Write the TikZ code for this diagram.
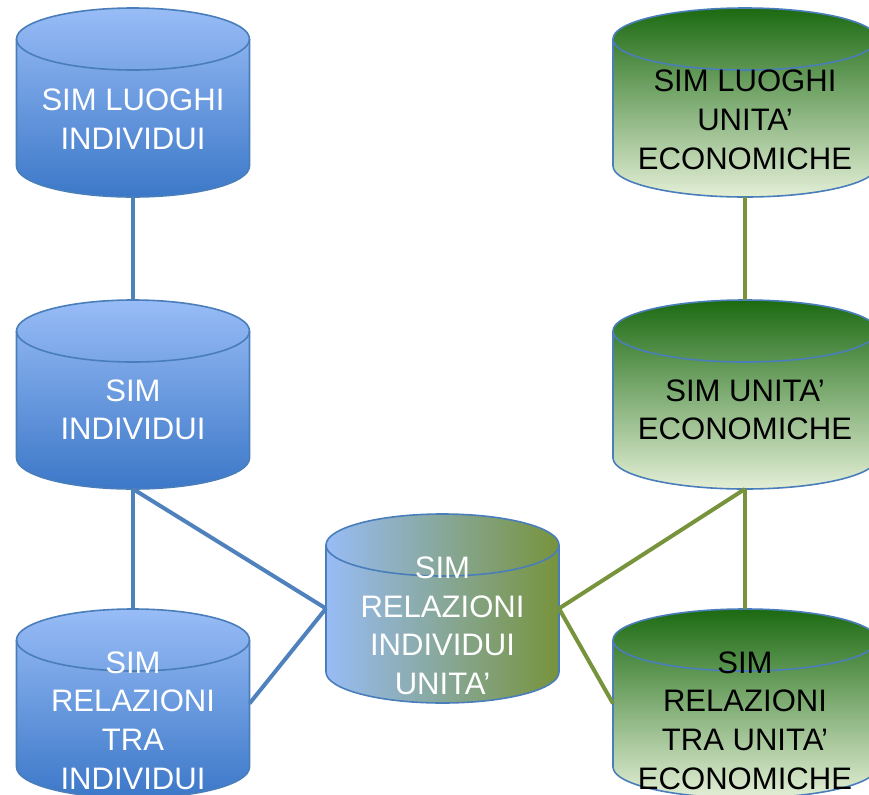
\documentclass[tikz,border=0pt]{standalone}
\usepackage{fontspec}
\setmainfont{Liberation Sans}
\usepackage{xcolor}
\usepackage{tikz}
\usetikzlibrary{positioning}

\definecolor{simblueL}{HTML}{98BCF6}
\definecolor{simblueD}{HTML}{3C78C8}
\definecolor{simedge}{HTML}{4A7EBB}
\definecolor{simline}{HTML}{4F81BD}
\definecolor{simgreenD}{HTML}{1C6A12}
\definecolor{simgreenM}{HTML}{8FB15A}
\definecolor{simgreenL}{HTML}{E3EFD6}
\definecolor{simolive}{HTML}{77933C}

% cylinder drawn over a named box: #1 box, #2 fill, #3 x radius, #4 y radius
\newcommand{\simcyl}[4]{%
  \path[#2, draw=simedge, line width=1.2pt]
    ([yshift=-#4]#1.north west) -- ([yshift=#4]#1.south west)
    arc[start angle=180, end angle=360, x radius=#3, y radius=#4]
    -- ([yshift=-#4]#1.north east)
    arc[start angle=0, end angle=180, x radius=#3, y radius=#4] -- cycle;
  \draw[simedge, line width=1.2pt] ([yshift=-#4]#1.north west)
    arc[start angle=180, end angle=360, x radius=#3, y radius=#4];
}

\begin{document}
\begin{tikzpicture}[
          x=0.75pt, y=-0.75pt,
          node distance=77.25pt,
          cylbox/.style={inner sep=0pt, outer sep=0pt, minimum height=141.75pt, minimum width=174.75pt},
          widebox/.style={cylbox, minimum width=198pt},
          bluefill/.style={top color=simblueL, bottom color=simblueD},
          greenfill/.style={top color=simgreenD, middle color=simgreenM, bottom color=simgreenL},
          mixfill/.style={left color=simblueL, right color=simolive},
          txt/.style={align=center, font=\fontsize{23.3}{29}\selectfont},
          wtxt/.style={txt, text=white},
          btxt/.style={txt, text=black},
          blueln/.style={draw=simline, line width=3pt},
          greenln/.style={draw=simolive, line width=3pt}
      ]
  \useasboundingbox (0,0) rectangle (869,794);
  \clip (0,0) rectangle (869,794);

      % Boxes
      \node[cylbox] (luoghiind) at (133,102.5) {};
      \node[cylbox, below=of luoghiind] (individui) {};
      \node[cylbox, below=90pt of individui] (relind) {};
      \node[cylbox] (relindue) at (442.5,608.5) {};
      \node[widebox] (luoghiue) at (745,102.5) {};
      \node[widebox, below=of luoghiue] (unitaec) {};
      \node[widebox, below=90pt of unitaec] (relue) {};

      % Cylinders
      \simcyl{luoghiind}{bluefill}{87.375pt}{23.25pt}
      \simcyl{individui}{bluefill}{87.375pt}{23.25pt}
      \simcyl{relind}{bluefill}{87.375pt}{23.25pt}
      \simcyl{relindue}{mixfill}{87.375pt}{23.25pt}
      \simcyl{luoghiue}{greenfill}{99pt}{23.25pt}
      \simcyl{unitaec}{greenfill}{99pt}{23.25pt}
      \simcyl{relue}{greenfill}{99pt}{23.25pt}

      % Texts
      \node[wtxt] (tluoghiind) at ([yshift=-12.5pt]luoghiind.center) {SIM LUOGHI\\INDIVIDUI};
      \node[wtxt] (tindividui) at ([yshift=-11.5pt]individui.center) {SIM\\INDIVIDUI};
      \node[wtxt] (trelind) at ([yshift=-12.75pt]relind.center) {SIM\\RELAZIONI\\TRA\\INDIVIDUI};
      \node[wtxt] (trelindue) at ([yshift=-13pt]relindue.center) {SIM\\RELAZIONI\\INDIVIDUI\\UNITA'};
      \node[btxt] (tluoghiue) at ([yshift=-13pt]luoghiue.center) {SIM LUOGHI\\UNITA'\\ECONOMICHE};
      \node[btxt] (tunitaec) at ([yshift=-11.5pt]unitaec.center) {SIM UNITA'\\ECONOMICHE};
      \node[btxt] (trelue) at ([yshift=-12.75pt]relue.center) {SIM\\RELAZIONI\\TRA UNITA'\\ECONOMICHE};

      % Links
      \draw[blueln] (luoghiind.south) -- (individui.north);
      \draw[blueln] (individui.south) -- (relind.north);
      \draw[blueln] (individui.south) -- (relindue.west);
      \draw[blueln] (relind.east) -- (relindue.west);
      \draw[greenln] (luoghiue.south) -- (unitaec.north);
      \draw[greenln] (unitaec.south) -- (relue.north);
      \draw[greenln] (unitaec.south) -- (relindue.east);
      \draw[greenln] (relindue.east) -- (relue.west);

\end{tikzpicture}
\end{document}
